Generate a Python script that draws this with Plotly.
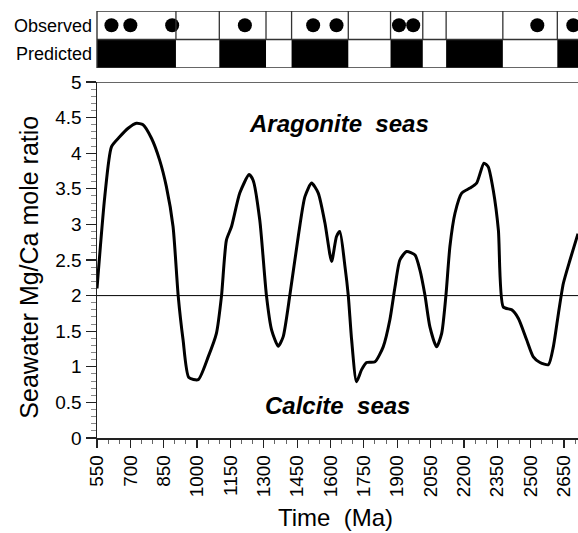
import plotly.graph_objects as go

# ---- data ----
time_ma = [550, 585, 615, 652, 690, 727, 757, 795, 832, 862, 892, 915, 937, 963, 1005,
           1050, 1087, 1110, 1132, 1155, 1192, 1234, 1252, 1282, 1312, 1335, 1365, 1387,
           1417, 1455, 1485, 1515, 1545, 1575, 1605, 1627, 1642, 1665, 1680, 1695, 1717,
           1740, 1762, 1800, 1837, 1867, 1890, 1912, 1942, 1980, 2002, 2025, 2047, 2077,
           2100, 2119, 2137, 2160, 2190, 2227, 2257, 2290, 2309, 2332, 2355, 2377, 2415,
           2445, 2482, 2512, 2542, 2580, 2602, 2625, 2647, 2677, 2713]
mgca = [2.1, 3.39, 4.09, 4.23, 4.35, 4.42, 4.40, 4.21, 3.90, 3.53, 2.97, 2.0, 1.38, 0.85, 0.82,
        1.14, 1.47, 2.0, 2.78, 2.97, 3.44, 3.70, 3.62, 3.06, 2.0, 1.52, 1.29, 1.42,
        2.0, 2.83, 3.39, 3.58, 3.44, 3.02, 2.48, 2.83, 2.90, 2.41, 2.0, 1.38, 0.79,
        0.96, 1.06, 1.07, 1.28, 1.66, 2.12, 2.50, 2.62, 2.57, 2.36, 2.0, 1.56, 1.28,
        1.47, 2.0, 2.69, 3.16, 3.44, 3.51, 3.58, 3.86, 3.81, 3.48, 2.92, 1.84, 1.80,
        1.68, 1.38, 1.14, 1.06, 1.03, 1.28, 1.75, 2.17, 2.50, 2.87]

observed_times = [615, 700, 888, 1215, 1522, 1627, 1908, 1972, 2530, 2692]
# predicted aragonite intervals (start, end)
predicted_starts = [550, 1100, 1425, 1870, 2120, 2620]
predicted_ends = [905, 1310, 1680, 2015, 2375, 2713]
boundaries = [905, 1100, 1310, 1425, 1680, 1870, 2015, 2120, 2375, 2620]

x_range = [550, 2713]
y_ticks = [0, 0.5, 1, 1.5, 2, 2.5, 3, 3.5, 4, 4.5, 5]
y_ticklabels = ["0", "0.5", "1", "1.5", "2", "2.5", "3", "3.5", "4", "4.5", "5"]
x_ticks = list(range(550, 2651, 150))
threshold = 2

FONT = "Liberation Sans, Arial, Helvetica, sans-serif"

fig = go.Figure()

fig.add_trace(go.Scatter(
    x=time_ma, y=mgca, mode="lines",
    line=dict(color="black", width=3, shape="spline", smoothing=0.6),
    showlegend=False, hoverinfo="skip"))

fig.add_trace(go.Scatter(
    x=observed_times, y=[1.5] * len(observed_times), yaxis="y2", mode="markers",
    marker=dict(color="black", size=14), showlegend=False, hoverinfo="skip"))

shapes = []
# threshold line
shapes.append(dict(type="line", xref="x domain", yref="y", x0=0, x1=1, y0=threshold, y1=threshold,
                   line=dict(color="black", width=1)))
# top border of main plot
shapes.append(dict(type="line", xref="x domain", yref="y", x0=0, x1=1, y0=5, y1=5,
                   line=dict(color="#333", width=1.5)))
# predicted blocks
for s, e in zip(predicted_starts, predicted_ends):
    shapes.append(dict(type="rect", xref="x", yref="y2", x0=s, x1=e, y0=0, y1=1,
                       fillcolor="black", line=dict(width=0), layer="below"))
# grid of top panel
for yy in [0, 1, 2]:
    shapes.append(dict(type="line", xref="x domain", yref="y2", x0=0, x1=1, y0=yy, y1=yy,
                       line=dict(color="#333", width=1.4)))
shapes.append(dict(type="line", xref="x domain", yref="y2", x0=0, x1=0, y0=0, y1=2,
                   line=dict(color="#333", width=1.4)))
for b in boundaries:
    shapes.append(dict(type="line", xref="x", yref="y2", x0=b, x1=b, y0=1, y1=2,
                       line=dict(color="#333", width=1.3)))

annotations = [
    dict(x=1638, y=4.42, xref="x", yref="y", text="<b><i>Aragonite\u00a0 seas</i></b>",
         showarrow=False, font=dict(size=24, color="black", family=FONT)),
    dict(x=1631, y=0.46, xref="x", yref="y", text="<b><i>Calcite\u00a0 seas</i></b>",
         showarrow=False, font=dict(size=24, color="black", family=FONT)),
    dict(x=0.496, y=-0.187, xref="paper", yref="paper", text="Time\u00a0 (Ma)",
         showarrow=False, font=dict(size=24, color="black", family=FONT),
         xanchor="center", yanchor="middle"),
    dict(x=-0.142, y=0.4005, xref="paper", yref="paper", text="Seawater Mg/Ca mole ratio",
         textangle=-90, showarrow=False, font=dict(size=25, color="black", family=FONT),
         xanchor="center", yanchor="middle"),
]

fig.update_layout(
    width=578, height=533,
    margin=dict(l=97, r=0, t=11, b=95),
    paper_bgcolor="white", plot_bgcolor="white",
    font=dict(family=FONT, color="black"),
    shapes=shapes, annotations=annotations,
    xaxis=dict(range=x_range, tickvals=x_ticks, ticktext=[str(t) for t in x_ticks],
               tickangle=-90, ticks="outside", ticklen=8, tickwidth=1.2, tickcolor="#222",
               showline=True, linecolor="#222", linewidth=1.5,
               showgrid=False, zeroline=False, tickfont=dict(size=19),
               minor=dict(dtick=50, tick0=550, ticks="outside", ticklen=4, tickcolor="#666", tickwidth=1),
               anchor="y", automargin=False),
    yaxis=dict(domain=[0, 0.8337], range=[0, 5], tickvals=y_ticks, ticktext=y_ticklabels,
               ticks="outside", ticklen=10, tickwidth=1.2, tickcolor="#222",
               showline=True, linecolor="#222", linewidth=1.5,
               showgrid=False, zeroline=False, tickfont=dict(size=19),
               minor=dict(dtick=0.1, tick0=0, ticks="outside", ticklen=5, tickcolor="#888", tickwidth=1),
               automargin=False),
    yaxis2=dict(domain=[0.8665, 1], range=[0, 2], anchor="x",
                tickvals=[0.5, 1.5], ticktext=["Predicted", "Observed"],
                ticks="", showline=False, showgrid=False, zeroline=False,
                tickfont=dict(size=18), ticklabelstandoff=4, automargin=False),
)

# remove the browser's default 8 px page margin so the figure fills the window
fig.write_html("out.html",
               config={"displayModeBar": False, "staticPlot": True},
               post_script="document.body.style.margin='0';document.body.style.overflow='hidden';")
